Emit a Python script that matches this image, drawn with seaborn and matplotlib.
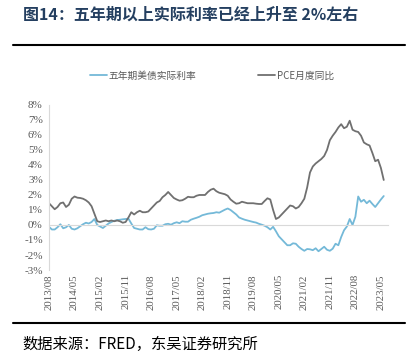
import pandas as pd
import seaborn as sns
import matplotlib.pyplot as plt
from matplotlib.lines import Line2D

# 月度数据：2013/08 - 2023/06
months = pd.date_range("2013-08-01", periods=119, freq="MS")

pce_yoy = [
    1.45, 1.25, 1.05, 1.2, 1.45, 1.5, 1.2, 1.35, 1.75, 1.9,
    1.82, 1.8, 1.75, 1.65, 1.5, 1.25, 0.75, 0.25, 0.2, 0.25,
    0.3, 0.25, 0.3, 0.25, 0.3, 0.25, 0.15, 0.2, 0.5, 0.85,
    0.7, 0.85, 0.95, 0.85, 0.85, 0.9, 1.1, 1.3, 1.5, 1.6,
    1.85, 2.0, 2.2, 2.0, 1.8, 1.7, 1.62, 1.65, 1.75, 1.88,
    1.85, 1.85, 1.95, 2.0, 2.0, 2.0, 2.2, 2.35, 2.42, 2.25,
    2.15, 2.1, 2.05, 1.95, 1.7, 1.55, 1.42, 1.45, 1.55, 1.5,
    1.45, 1.45, 1.45, 1.42, 1.4, 1.4, 1.6, 1.78, 1.7, 1.0,
    0.4, 0.5, 0.7, 0.9, 1.1, 1.3, 1.25, 1.1, 1.2, 1.45,
    1.75, 2.5, 3.5, 3.9, 4.1, 4.25, 4.4, 4.6, 5.0, 5.65,
    5.95, 6.2, 6.5, 6.72, 6.45, 6.55, 6.95, 6.35, 6.25, 6.2,
    5.95, 5.5, 5.38, 5.3, 4.8, 4.25, 4.35, 3.8, 3.0,
]

real_rate_5y = [
    -0.12, -0.3, -0.3, -0.15, 0.05, -0.22, -0.15, 0.0, -0.25, -0.3,
    -0.22, -0.08, 0.05, 0.15, 0.1, 0.2, 0.4, 0.0, -0.1, -0.2,
    -0.05, 0.1, 0.2, 0.28, 0.33, 0.35, 0.38, 0.4, 0.42, 0.1,
    -0.2, -0.25, -0.3, -0.3, -0.15, -0.28, -0.3, -0.25, -0.02, -0.05,
    -0.05, 0.05, 0.08, 0.02, 0.12, 0.18, 0.12, 0.25, 0.22, 0.22,
    0.35, 0.42, 0.48, 0.55, 0.65, 0.7, 0.75, 0.78, 0.8, 0.85,
    0.82, 0.92, 1.02, 1.1, 1.0, 0.85, 0.7, 0.5, 0.42, 0.35,
    0.3, 0.25, 0.2, 0.16, 0.08, 0.02, -0.05, -0.15, -0.3, -0.12,
    -0.42, -0.75, -0.95, -1.15, -1.35, -1.35, -1.22, -1.25, -1.45, -1.6,
    -1.72, -1.6, -1.62, -1.68, -1.55, -1.75, -1.6, -1.45, -1.65, -1.72,
    -1.58, -1.25, -1.35, -0.8, -0.35, -0.1, 0.4, 0.0, 0.55, 1.9,
    1.55, 1.68, 1.45, 1.62, 1.4, 1.2, 1.45, 1.7, 1.93,
]

tick_labels = ["2013/08", "2014/05", "2015/02", "2015/11", "2016/08", "2017/05",
               "2018/02", "2018/11", "2019/08", "2020/05", "2021/02", "2021/11",
               "2022/08", "2023/05"]

df = pd.DataFrame({"idx": range(len(months)), "real": real_rate_5y, "pce": pce_yoy})

sns.set_style("white")
plt.rcParams['font.family'] = ['Noto Sans CJK SC', 'DejaVu Sans']

fig = plt.figure(figsize=(4.19, 3.58), dpi=100)
ax = fig.add_axes([0.117, 0.2458, 0.809, 0.461])

sns.lineplot(data=df, x="idx", y="real", ax=ax, color="#74b9d8", lw=1.3,
             label="五年期美债实际利率", legend=False)
sns.lineplot(data=df, x="idx", y="pce", ax=ax, color="#707070", lw=1.3,
             label="PCE月度同比", legend=False)

ax.set_xlim(0, 119.5)
ax.set_ylim(-3, 8)
ax.set_xlabel("")
ax.set_ylabel("")

grey = "#595959"
spine_c = "#d9d9d9"

# y 轴
ax.set_yticks(range(-3, 9))
ax.set_yticklabels([f"{v}%" for v in range(-3, 9)], family="Liberation Serif",
                   fontsize=8, color=grey)
ax.tick_params(axis="y", length=2.5, color=spine_c, pad=2)
ax.spines["left"].set_color(spine_c)
ax.spines["right"].set_visible(False)
ax.spines["top"].set_visible(False)

# x 轴：刻度线在 0 处，标签在底部
tick_pos = [i * 9 for i in range(len(tick_labels))]
ax.spines["bottom"].set_position(("data", 0))
ax.spines["bottom"].set_color(spine_c)
ax.set_xticks(tick_pos)
ax.tick_params(axis="x", labelbottom=False, length=3, color=spine_c)

sec = ax.secondary_xaxis(0)
sec.set_xticks(tick_pos)
sec.set_xticklabels(tick_labels, rotation=90, family="Liberation Serif",
                    fontsize=7.8, color=grey)
sec.tick_params(length=0, pad=3)
sec.spines["bottom"].set_visible(False)

# 图例
handles, labels = ax.get_legend_handles_labels()
leg = fig.legend(handles, labels, loc="center", bbox_to_anchor=(0.506, 0.788),
                 ncol=2, frameon=False, fontsize=7, handlelength=1.8,
                 handletextpad=0.2, columnspacing=6.3)
for t in leg.get_texts():
    t.set_color(grey)

# 标题与来源
fig.text(0.055, 1 - 15 / 358, "图14：五年期以上实际利率已经上升至 2%左右", fontsize=11.5,
         fontweight="bold", color="#243f60", va="center", ha="left")
fig.add_artist(Line2D([13 / 419, 405 / 419], [1 - 45 / 358] * 2,
                      transform=fig.transFigure, color="black", lw=1.5))
fig.add_artist(Line2D([13 / 419, 405 / 419], [1 - 323 / 358] * 2,
                      transform=fig.transFigure, color="black", lw=1.5))
fig.text(0.053, 1 - 344 / 358, "数据来源：FRED，东吴证券研究所", fontsize=11,
         color="black", va="center", ha="left")

fig.savefig("out.png", dpi=100)
